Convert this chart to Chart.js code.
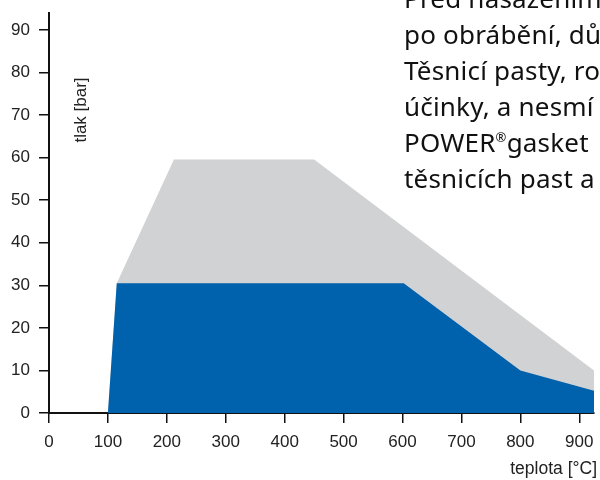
<!DOCTYPE html>
<html>
<head>
<meta charset="utf-8">
<script src="https://cdn.jsdelivr.net/npm/chart.js@4.4.1/dist/chart.umd.min.js"></script>
<style>
  html, body { margin: 0; padding: 0; background: #fff; overflow: hidden; }
  #wrap { position: relative; width: 600px; height: 480px; overflow: hidden; }
  #c { position: absolute; left: 0; top: 0; }
  #para {
    position: absolute; left: 404px; top: -20px; width: 196px; overflow: hidden;
    font-family: "Noto Sans", sans-serif; font-size: 26px; line-height: 36px;
    color: #111; white-space: nowrap; letter-spacing: 0.2px;
  }
  #para sup { font-size: 13px; vertical-align: 10px; line-height: 0; }
</style>
</head>
<body>
<div id="wrap">
  <canvas id="c" width="600" height="480"></canvas>
  <div id="para">
    Před nasazením<br>
    po obrábění, důkladně<br>
    Těsnicí pasty, rozpouštědla<br>
    účinky, a nesmí být<br>
    POWER<sup>®</sup>gasket<br>
    těsnicích past a přípravků
  </div>
</div>
<script>
// --- data ---
const grayTemps    = [0, 100, 115, 212, 450, 925];
const grayPressure = [0, 0, 30.5, 59.6, 59.6, 10];
const blueTemps    = [0, 100, 115, 602, 800, 925];
const bluePressure = [0, 0, 30.5, 30.5, 10, 5.2];
const xTickValues  = [0, 100, 200, 300, 400, 500, 600, 700, 800, 900];
const yTickValues  = [0, 10, 20, 30, 40, 50, 60, 70, 80, 90];
const xTitle = 'teplota [°C]';
const yTitle = 'tlak [bar]';

const toPts = (xs, ys) => xs.map((x, i) => ({ x, y: ys[i] }));

const axisFont = { family: '"Liberation Sans", Arial, sans-serif', size: 17 };

const titlesPlugin = {
  id: 'titles',
  afterDraw(chart) {
    const ctx = chart.ctx;
    ctx.save();
    ctx.fillStyle = '#222';
    ctx.font = '17.5px "Liberation Sans", Arial, sans-serif';
    ctx.textAlign = 'right';
    ctx.textBaseline = 'alphabetic';
    ctx.fillText(xTitle, 597, 474);
    ctx.translate(81, 110);
    ctx.rotate(-Math.PI / 2);
    ctx.font = '17px "Liberation Sans", Arial, sans-serif';
    ctx.textAlign = 'center';
    ctx.textBaseline = 'middle';
    ctx.fillText(yTitle, 0, 0);
    ctx.restore();
  }
};

new Chart(document.getElementById('c'), {
  type: 'line',
  data: {
    datasets: [
      {
        data: toPts(blueTemps, bluePressure),
        backgroundColor: '#0061AC',
        borderColor: '#0061AC',
        borderWidth: 0,
        pointRadius: 0,
        fill: 'origin',
        tension: 0
      },
      {
        data: toPts(grayTemps, grayPressure),
        backgroundColor: '#D1D2D4',
        borderColor: '#D1D2D4',
        borderWidth: 0,
        pointRadius: 0,
        fill: 'origin',
        tension: 0
      }
    ]
  },
  options: {
    responsive: false,
    animation: false,
    events: [],
    layout: { padding: { top: 13, right: 6, left: 0, bottom: 0 } },
    plugins: { legend: { display: false }, tooltip: { enabled: false } },
    scales: {
      x: {
        type: 'linear',
        min: 0,
        max: 925,
        afterBuildTicks: (s) => { s.ticks = xTickValues.map(v => ({ value: v })); },
        afterFit: (s) => { s.height = 67; s.paddingLeft = 0; s.paddingRight = 0; },
        border: { display: true, color: '#111', width: 2 },
        grid: { drawOnChartArea: false, drawTicks: true, tickLength: 10, color: '#111', lineWidth: 1.5 },
        ticks: { color: '#222', font: axisFont, padding: 9, maxRotation: 0 }
      },
      y: {
        type: 'linear',
        min: 0,
        max: 94,
        afterBuildTicks: (s) => { s.ticks = yTickValues.map(v => ({ value: v })); },
        afterFit: (s) => { s.width = 49; s.paddingTop = 0; s.paddingBottom = 0; },
        border: { display: true, color: '#111', width: 2 },
        grid: { drawOnChartArea: false, drawTicks: true, tickLength: 10, color: '#111', lineWidth: 1.5 },
        ticks: { color: '#222', font: axisFont, padding: 9 }
      }
    }
  },
  plugins: [titlesPlugin]
});
</script>
</body>
</html>
